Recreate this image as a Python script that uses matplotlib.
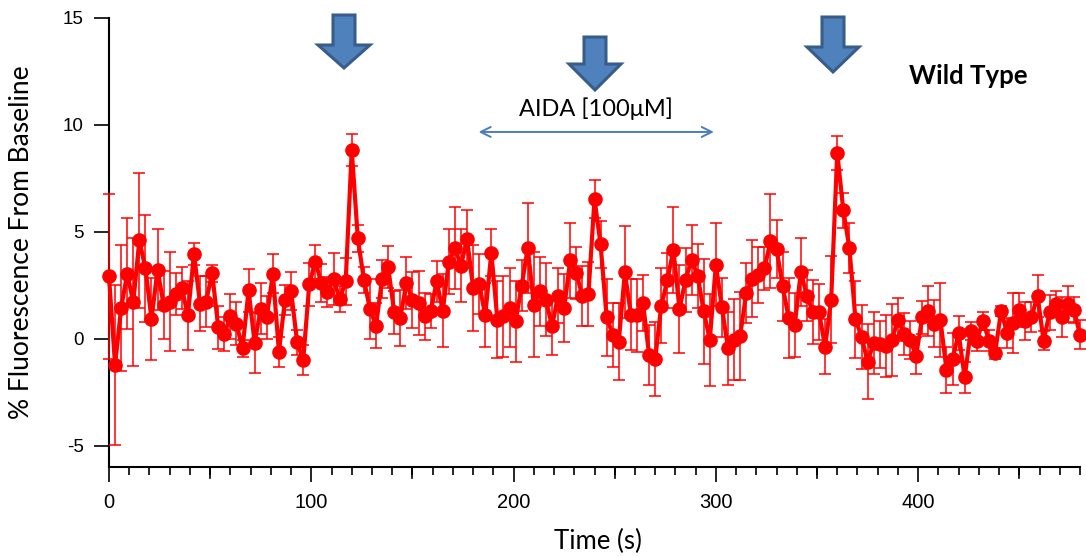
import matplotlib
matplotlib.use("Agg")
import matplotlib.pyplot as plt
from matplotlib.patches import Polygon
from matplotlib.ticker import MultipleLocator, FixedLocator

time_s = list(range(0, 481, 3))
fluor = [2.91, -1.23, 1.43, 3.04, 1.71, 4.60, 3.30, 0.92, 3.22, 1.59,
         1.74, 2.09, 2.37, 1.09, 3.96, 1.64, 1.74, 3.07, 0.53, 0.23,
         1.04, 0.70, -0.45, 2.26, -0.20, 1.40, 1.00, 3.04, -0.62, 1.82,
         2.24, -0.17, -1.01, 2.55, 3.60, 2.60, 2.18, 2.79, 1.85, 2.68,
         8.83, 4.69, 2.76, 1.39, 0.61, 2.80, 3.35, 1.23, 0.97, 2.60,
         1.82, 1.67, 1.04, 1.28, 2.68, 1.31, 3.61, 4.24, 3.41, 4.66,
         2.38, 2.57, 1.09, 4.03, 0.89, 1.04, 1.45, 0.81, 2.48, 4.25,
         1.59, 2.21, 1.82, 0.58, 2.02, 1.43, 3.66, 3.07, 1.98, 2.09,
         6.53, 4.42, 1.00, 0.19, -0.14, 3.10, 1.12, 1.09, 1.67, -0.78,
         -0.95, 1.54, 2.73, 4.16, 1.39, 2.76, 3.69, 2.94, 1.28, -0.05,
         3.46, 1.46, -0.45, -0.05, 0.14, 2.13, 2.80, 2.99, 3.30, 4.55,
         4.19, 2.45, 0.97, 0.65, 3.12, 2.01, 1.25, 1.24, -0.38, 1.83,
         8.70, 6.00, 4.24, 0.92, 0.09, -1.07, -0.22, -0.25, -0.33, -0.06,
         0.89, 0.22, -0.06, -0.79, 1.00, 1.31, 0.69, 0.87, -1.46, -0.95,
         0.25, -1.81, 0.37, -0.09, 0.84, -0.09, -0.69, 1.31, 0.25, 0.72,
         1.34, 0.84, 1.00, 2.01, -0.09, 1.23, 1.62, 1.00, 1.62, 1.34,
         0.19]
fluor_err = [3.85, 3.75, 2.95, 2.60, 3.00, 3.15, 2.50, 1.90, 1.90, 1.60,
             2.30, 1.00, 1.00, 1.60, 0.50, 1.30, 1.20, 0.40, 1.00, 0.80,
             1.05, 1.00, 0.40, 1.00, 1.40, 1.20, 1.00, 0.90, 0.70, 0.70,
             0.90, 0.60, 0.70, 1.00, 0.80, 0.90, 0.70, 1.20, 0.60, 1.10,
             0.75, 0.64, 0.60, 1.40, 1.05, 0.90, 1.00, 1.00, 1.30, 1.20,
             1.30, 1.50, 1.10, 0.80, 0.95, 1.70, 1.50, 1.90, 1.70, 1.35,
             2.00, 1.40, 1.50, 1.10, 1.80, 1.90, 1.85, 1.90, 1.20, 2.10,
             2.45, 1.60, 1.70, 1.35, 1.30, 1.60, 1.75, 1.20, 1.40, 1.50,
             0.90, 1.10, 1.80, 1.50, 1.80, 2.15, 1.65, 1.70, 1.30, 1.40,
             1.75, 1.75, 1.30, 2.00, 2.05, 1.50, 1.65, 1.50, 2.45, 2.15,
             1.95, 1.40, 1.70, 1.90, 2.05, 1.40, 1.80, 1.30, 1.00, 2.20,
             1.35, 1.60, 1.85, 1.50, 1.60, 1.20, 1.50, 1.30, 1.28, 2.05,
             0.80, 0.80, 1.15, 1.80, 1.50, 1.76, 1.45, 1.10, 1.45, 1.70,
             1.00, 1.00, 0.90, 0.86, 0.78, 1.17, 1.10, 1.74, 1.08, 1.20,
             0.80, 0.74, 0.41, 0.50, 0.41, 0.50, 0.26, 0.23, 0.70, 1.40,
             0.80, 0.90, 0.70, 0.98, 0.44, 0.80, 0.60, 0.94, 0.83, 0.60,
             0.67]

x_ticks = [0, 100, 200, 300, 400]
y_ticks = [-5, 0, 5, 10, 15]

LABEL_FONT = ["Lato", "DejaVu Sans"]
TICK_FONT = ["Liberation Sans", "DejaVu Sans"]
plt.rcParams["font.family"] = LABEL_FONT

W, H = 1086, 556
fig = plt.figure(figsize=(W / 100, H / 100), dpi=100)
ax = fig.add_axes([109 / W, 1 - 467 / H, (1080 - 109) / W, (467 - 18) / H])

ax.errorbar(time_s, fluor, yerr=fluor_err, color="#FF0000", lw=3.0,
            marker="o", ms=9.5, mec="#FF0000", mfc="#FF0000",
            elinewidth=1.1, capsize=4.5, capthick=1.1, clip_on=False, zorder=3)

ax.set_xlim(0, 480)
ax.set_ylim(-6, 15)
ax.xaxis.set_major_locator(FixedLocator(x_ticks))
ax.yaxis.set_major_locator(FixedLocator(y_ticks))
ax.xaxis.set_minor_locator(MultipleLocator(10))
ax.set_xticklabels([str(v) for v in x_ticks], fontsize=14.5, family=TICK_FONT)
ax.set_yticklabels([str(v) for v in y_ticks], fontsize=13.5, family=TICK_FONT)
ax.tick_params(axis="x", which="major", length=11, width=1.2, direction="out", pad=8)
ax.tick_params(axis="x", which="minor", length=6, width=1.2, direction="out")
ax.tick_params(axis="y", which="major", length=11, width=1.2, direction="out", pad=7)
for s in ["top", "right"]:
    ax.spines[s].set_visible(False)
for s in ["left", "bottom"]:
    ax.spines[s].set_linewidth(1.5)

# medium ticks at 50s
for xv in [50, 150, 250, 350, 450]:
    ax.plot([xv, xv], [0, -11 / 449], transform=ax.get_xaxis_transform(),
            color="black", lw=1.2, clip_on=False)

ax.set_xlabel("Time (s)", fontsize=18.5)
ax.xaxis.set_label_coords((598 - 109) / 971, (467 - 541) / 449)
ax.xaxis.label.set_va("center")
ax.set_ylabel("% Fluorescence From Baseline", fontsize=19)
ax.yaxis.set_label_coords((22 - 109) / 971, 0.5)
ax.yaxis.label.set_va("center")

# annotations
ax.annotate("", xy=(299, 9.67), xytext=(182.7, 9.67),
            arrowprops=dict(arrowstyle="<->", color="#4A7EBB", lw=1.4,
                            mutation_scale=18, shrinkA=0, shrinkB=0))
ax.text(240.7, 10.75, "AIDA [100\u03bcM]", fontsize=17, ha="center", va="center")
ax.text(424.8, 12.3, "Wild Type", fontsize=18.5, fontweight="bold", ha="center", va="center")


def block_arrow(cx, top, head_start, tip, shaft_w=22, head_w=52):
    pts = [(cx - shaft_w / 2, top), (cx + shaft_w / 2, top),
           (cx + shaft_w / 2, head_start), (cx + head_w / 2, head_start),
           (cx, tip), (cx - head_w / 2, head_start),
           (cx - shaft_w / 2, head_start)]
    pts = [(x / W, 1 - y / H) for x, y in pts]
    fig.patches.append(Polygon(pts, closed=True, transform=fig.transFigure,
                               facecolor="#4F81BD", edgecolor="#385D8A", lw=2.2))


block_arrow(344, 15, 45, 68)
block_arrow(595, 37, 64, 90)
block_arrow(833, 17, 47, 72)

fig.savefig("out.png", dpi=100)
